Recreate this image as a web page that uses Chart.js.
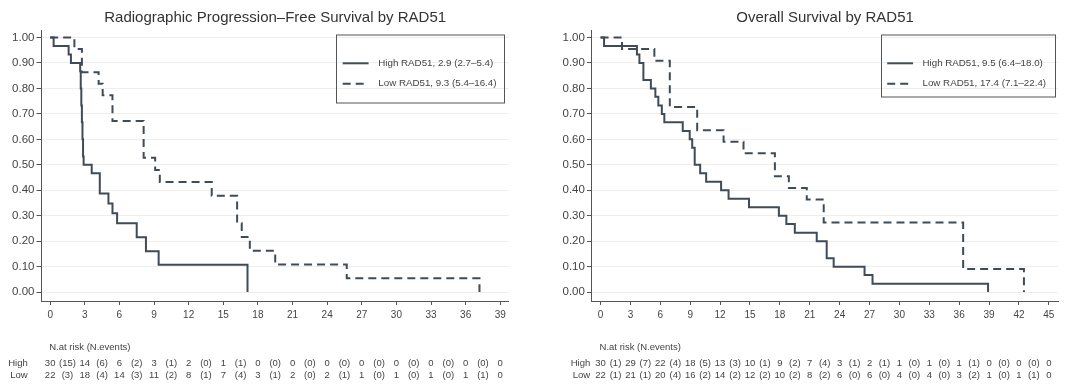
<!DOCTYPE html>
<html>
<head>
<meta charset="utf-8">
<script src="https://cdn.jsdelivr.net/npm/chart.js@4.4.1/dist/chart.umd.min.js"></script>
<style>
  html, body { margin: 0; padding: 0; background: #fff; }
  #wrap { position: relative; width: 1080px; height: 390px; }
  canvas { position: absolute; top: 0; }
</style>
</head>
<body>
<div id="wrap">
  <canvas id="pfs" width="540" height="390" style="left:0;width:540px;height:390px"></canvas>
  <canvas id="os" width="540" height="390" style="left:540px;width:540px;height:390px"></canvas>
</div>
<script>
// --- radiographic PFS (months, survival) ---
const pfsHighT = [0, 0.3, 1.6, 1.8, 2.6, 2.65, 2.7, 2.75, 2.8, 2.85, 2.9, 3.6, 4.3, 5.05, 5.4, 5.8, 7.5, 8.3, 9.4, 17.1];
const pfsHighS = [1, 0.967, 0.933, 0.9, 0.867, 0.8, 0.733, 0.667, 0.6, 0.533, 0.5, 0.467, 0.387, 0.348, 0.31, 0.27, 0.215, 0.16, 0.107, 0];
const pfsLowT = [0, 2.1, 2.75, 4.2, 4.55, 5.4, 8.1, 9.1, 9.5, 14.0, 16.2, 16.6, 17.3, 19.5, 25.7, 37.2];
const pfsLowS = [1, 0.955, 0.864, 0.818, 0.773, 0.672, 0.528, 0.48, 0.432, 0.378, 0.27, 0.216, 0.162, 0.108, 0.054, 0];

// --- overall survival ---
const osHighT = [0, 0.35, 3.65, 3.9, 4.3, 5.05, 5.5, 5.8, 6.15, 6.4, 8.25, 8.95, 9.2, 9.45, 10.0, 10.6, 12.1, 12.85, 14.9, 17.9, 18.65, 19.5, 21.7, 22.7, 23.4, 26.5, 27.3, 38.9];
const osHighS = [1, 0.967, 0.933, 0.9, 0.833, 0.8, 0.767, 0.733, 0.7, 0.667, 0.633, 0.6, 0.567, 0.5, 0.467, 0.433, 0.4, 0.367, 0.333, 0.3, 0.267, 0.233, 0.2, 0.133, 0.1, 0.067, 0.033, 0];
const osLowT = [0, 2.15, 5.4, 6.95, 9.7, 12.35, 14.35, 17.5, 18.9, 20.7, 22.4, 36.4, 42.5];
const osLowS = [1, 0.955, 0.909, 0.727, 0.636, 0.591, 0.545, 0.455, 0.409, 0.364, 0.273, 0.091, 0];

// --- axes ---
const yTicks = [0, 0.1, 0.2, 0.3, 0.4, 0.5, 0.6, 0.7, 0.8, 0.9, 1.0];
const pfsXTicks = [0, 3, 6, 9, 12, 15, 18, 21, 24, 27, 30, 33, 36, 39];
const osXTicks = [0, 3, 6, 9, 12, 15, 18, 21, 24, 27, 30, 33, 36, 39, 42, 45];

// --- number at risk (N events) ---
const pfsHighRisk = [30, 14, 6, 3, 2, 1, 0, 0, 0, 0, 0, 0, 0, 0];
const pfsHighEvents = [15, 6, 2, 1, 0, 1, 0, 0, 0, 0, 0, 0, 0];
const pfsLowRisk = [22, 18, 14, 11, 8, 7, 3, 2, 2, 1, 1, 1, 1, 0];
const pfsLowEvents = [3, 4, 3, 2, 1, 4, 1, 0, 1, 0, 0, 0, 1];
const osHighRisk = [30, 29, 22, 18, 13, 10, 9, 7, 3, 2, 1, 1, 1, 0, 0, 0];
const osHighEvents = [1, 7, 4, 5, 3, 1, 2, 4, 1, 1, 0, 0, 1, 0, 0];
const osLowRisk = [22, 21, 20, 16, 14, 12, 10, 8, 6, 6, 4, 4, 3, 1, 1, 0];
const osLowEvents = [1, 1, 4, 2, 2, 2, 2, 2, 0, 0, 0, 0, 2, 0, 1];

const FONT = '"Liberation Sans", Arial, Helvetica, sans-serif';
const LINE = '#3f4b56';
const TXT = '#444';
const DASH = [8, 5];

const kmExtras = {
  id: 'kmExtras',
  afterDraw(chart, args, o) {
    const ctx = chart.ctx;
    const a = chart.chartArea;
    const xs = chart.scales.x;
    ctx.save();

    // title
    ctx.fillStyle = '#333';
    ctx.font = '15px ' + FONT;
    ctx.textAlign = 'center';
    ctx.textBaseline = 'alphabetic';
    ctx.fillText(o.title, (a.left + a.right) / 2, 22);

    // legend box
    const b = o.box;
    ctx.strokeStyle = '#555';
    ctx.lineWidth = 1;
    ctx.setLineDash([]);
    ctx.strokeRect(b.x + 0.5, b.y + 0.5, b.w, b.h);
    ctx.font = '9.75px ' + FONT;
    ctx.textAlign = 'left';
    ctx.textBaseline = 'middle';
    o.legend.forEach((txt, i) => {
      const y = b.rowY[i];
      ctx.strokeStyle = LINE;
      ctx.lineWidth = 2;
      ctx.setLineDash(i === 1 ? DASH : []);
      ctx.beginPath();
      ctx.moveTo(b.sx0, y);
      ctx.lineTo(b.sx1, y);
      ctx.stroke();
      ctx.fillStyle = TXT;
      ctx.fillText(txt, b.tx, y);
    });
    ctx.setLineDash([]);

    // risk table
    ctx.fillStyle = TXT;
    ctx.font = '9.5px ' + FONT;
    ctx.textBaseline = 'middle';
    ctx.textAlign = 'left';
    ctx.fillText('N.at risk (N.events)', xs.getPixelForValue(o.ticks[0]) - 1, 347);
    const rows = [['High', o.highRisk, o.highEvents, 363.5], ['Low', o.lowRisk, o.lowEvents, 375]];
    rows.forEach(([lab, risk, ev, y]) => {
      ctx.textAlign = 'right';
      ctx.fillText(lab, o.labelX, y);
      ctx.textAlign = 'center';
      risk.forEach((n, i) => ctx.fillText(String(n), xs.getPixelForValue(o.ticks[i]), y));
      ev.forEach((n, i) => {
        const mid = (o.ticks[i] + o.ticks[i + 1]) / 2;
        ctx.fillText('(' + n + ')', xs.getPixelForValue(mid), y);
      });
    });
    ctx.restore();
  }
};

function pts(T, S) {
  return T.map((t, i) => ({ x: t, y: S[i] }));
}

function makeKM(id, cfg) {
  return new Chart(document.getElementById(id), {
    type: 'line',
    data: {
      datasets: [
        { data: pts(cfg.highT, cfg.highS), stepped: true, borderColor: LINE, borderWidth: 2, pointRadius: 0, fill: false },
        { data: pts(cfg.lowT, cfg.lowS), stepped: true, borderColor: LINE, borderWidth: 2, borderDash: DASH, pointRadius: 0, fill: false }
      ]
    },
    options: {
      responsive: false,
      animation: false,
      devicePixelRatio: 1,
      layout: { padding: { left: 0, right: cfg.padRight, top: 30.5, bottom: 64 } },
      plugins: {
        legend: { display: false },
        tooltip: { enabled: false },
        kmExtras: cfg.extras
      },
      scales: {
        x: {
          type: 'linear',
          min: cfg.xMin,
          max: cfg.xMax,
          afterBuildTicks: s => { s.ticks = cfg.extras.ticks.map(v => ({ value: v })); },
          afterFit: s => { s.height = 25; s.paddingLeft = 0; s.paddingRight = 0; },
          ticks: { color: TXT, font: { family: FONT, size: 10 }, padding: 4, maxRotation: 0, autoSkip: false },
          grid: { drawOnChartArea: false, drawTicks: true, tickLength: 4, tickColor: '#555' },
          border: { color: '#555', width: 1 }
        },
        y: {
          type: 'linear',
          min: -0.035,
          max: 1.0275,
          afterBuildTicks: s => { s.ticks = yTicks.map(v => ({ value: v })); },
          afterFit: s => { s.width = cfg.yWidth; s.paddingTop = 0; s.paddingBottom = 0; },
          ticks: { color: TXT, font: { family: FONT, size: 11.5 }, padding: 2, callback: v => Number(v).toFixed(2) },
          grid: { color: '#eeeeee', lineWidth: 1, tickLength: 5, tickColor: '#555' },
          border: { color: '#555', width: 1 }
        }
      }
    },
    plugins: [kmExtras]
  });
}

makeKM('pfs', {
  highT: pfsHighT, highS: pfsHighS, lowT: pfsLowT, lowS: pfsLowS,
  xMin: -0.75, xMax: 39.74, yWidth: 41.5, padRight: 31.2,
  extras: {
    title: 'Radiographic Progression\u2013Free Survival by RAD51',
    legend: ['High RAD51, 2.9 (2.7\u20135.4)', 'Low RAD51, 9.3 (5.4\u201316.4)'],
    box: { x: 336, y: 34.5, w: 168, h: 68, sx0: 342.7, sx1: 368.6, tx: 378.3, rowY: [63.3, 83.8] },
    ticks: pfsXTicks,
    highRisk: pfsHighRisk, highEvents: pfsHighEvents,
    lowRisk: pfsLowRisk, lowEvents: pfsLowEvents,
    labelX: 27.7
  }
});

makeKM('os', {
  highT: osHighT, highS: osHighS, lowT: osLowT, lowS: osLowS,
  xMin: -0.87, xMax: 45.94, yWidth: 51.9, padRight: 21.8,
  extras: {
    title: 'Overall Survival by RAD51',
    legend: ['High RAD51, 9.5 (6.4\u201318.0)', 'Low RAD51, 17.4 (7.1\u201322.4)'],
    box: { x: 341, y: 34.5, w: 174, h: 62, sx0: 347.2, sx1: 373.1, tx: 382.5, rowY: [63.3, 83.8] },
    ticks: osXTicks,
    highRisk: osHighRisk, highEvents: osHighEvents,
    lowRisk: osLowRisk, lowEvents: osLowEvents,
    labelX: 50.2
  }
});
</script>
</body>
</html>
